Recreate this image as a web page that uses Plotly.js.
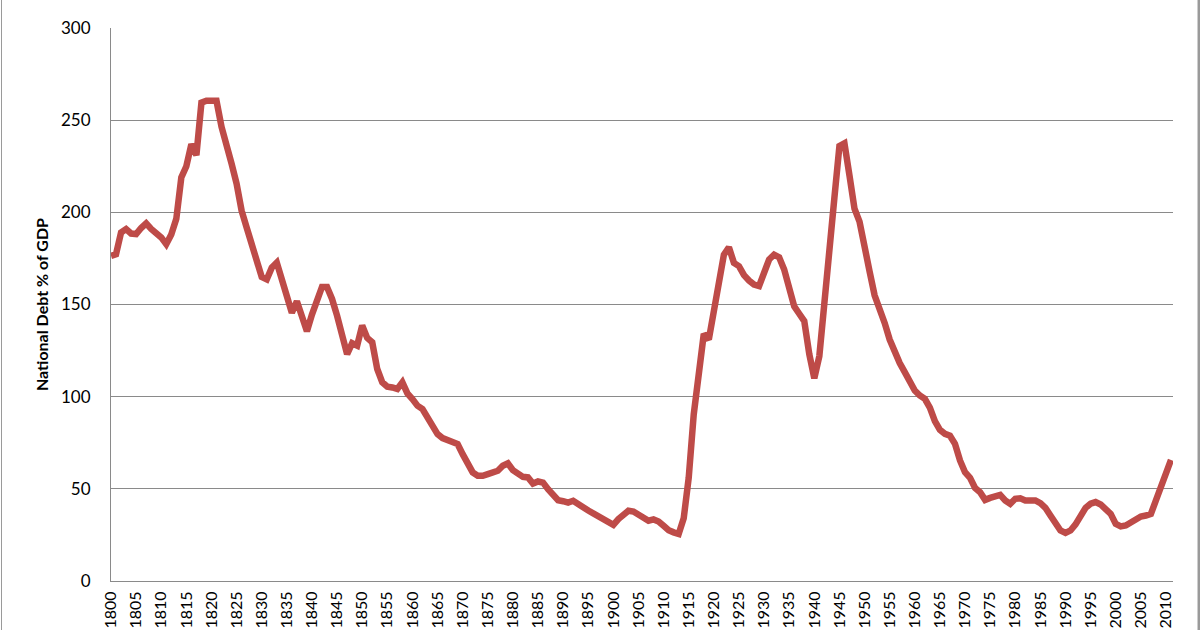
<!DOCTYPE html>
<html>
<head>
<meta charset="utf-8">
<script src="https://cdn.plot.ly/plotly-3.0.1.min.js"></script>
<style>
  html, body { margin: 0; padding: 0; background: #ffffff; overflow: hidden; }
  #chart { width: 1200px; height: 630px; }
</style>
</head>
<body>
<div id="chart"></div>
<script>
// ---- Data ----
const firstYear = 1800;
const lastYear = 2011;

// National debt as % of GDP, 1800-1899
const debt1800s = [
  176.4, 177.3, 189.1, 190.9, 188.5, 188.2, 191.5, 194.0, 191.0, 189.0,
  186.4, 182.7, 188.0, 196.5, 219.0, 225.0, 237.0, 231.0, 259.5, 260.5,
  260.4, 260.5, 246.4, 237.3, 226.4, 215.5, 200.9, 191.8, 182.7, 172.7,
  164.9, 163.6, 170.0, 172.7, 162.7, 152.7, 145.5, 151.8, 144.5, 135.5,
  144.5, 152.7, 159.5, 159.5, 153.0, 144.0, 133.0, 123.0, 129.0, 127.7,
  138.6, 131.9, 129.5, 115.0, 107.8, 105.4, 105.0, 104.2, 107.8, 101.8,
  98.7, 95.1, 93.3, 88.8, 84.2, 79.7, 77.5, 76.4, 76.0, 74.3,
  68.8, 63.4, 58.9, 57.1, 57.1, 58.0, 58.9, 59.8, 62.5, 63.8,
  60.1, 58.0, 56.5, 56.2, 52.9, 54.0, 53.4, 49.8, 46.2, 43.8,
  43.3, 42.5, 43.5, 41.5, 39.9, 38.2, 36.7, 35.2, 33.6, 31.6
];
// 1900-1999
const debt1900s = [
  30.5, 33.6, 36.3, 38.1, 37.7, 35.9, 34.1, 32.7, 33.4, 32.3,
  30.0, 27.6, 26.4, 25.5, 34.0, 56.0, 90.4, 112.0, 134.0, 131.0,
  148.0, 165.0, 177.0, 181.0, 172.6, 170.8, 165.9, 163.0, 160.8, 160.0,
  166.2, 174.4, 177.0, 175.6, 169.0, 159.0, 149.0, 145.0, 141.0, 123.0,
  110.0, 122.0, 148.0, 177.0, 208.0, 236.0, 237.5, 220.0, 202.0, 195.0,
  183.0, 168.0, 155.0, 148.0, 140.0, 131.0, 123.6, 118.2, 113.3, 107.9,
  103.3, 100.6, 98.8, 94.0, 86.7, 82.0, 79.8, 78.8, 74.4, 65.4,
  59.0, 56.0, 50.5, 48.2, 44.0, 45.1, 45.8, 46.7, 43.7, 41.9,
  44.6, 44.9, 43.7, 43.7, 43.7, 42.2, 39.7, 35.5, 30.7, 27.4,
  26.1, 27.4, 30.7, 35.5, 39.7, 41.9, 42.8, 41.5, 39.2, 36.4
];
// 2000-2011
const debt2000s = [
  31.0, 29.6, 30.1, 31.7, 33.4, 35.0, 35.5, 36.4, 43.7, 51.8,
  59.0, 65.7
];

const yTickVals = [0, 50, 100, 150, 200, 250, 300];
const yTitle = "National Debt % of GDP";

// ---- Build ----
const debt = debt1800s.concat(debt1900s, debt2000s);
const years = [];
for (let y = firstYear; y <= lastYear; y++) years.push(y);

const xTickVals = [];
for (let y = firstYear; y <= 2010; y += 5) xTickVals.push(y);

const gridGray = "#8a8a8a";
const fontFam = "Lato, 'Open Sans', sans-serif";

const trace = {
  x: years,
  y: debt,
  type: "scatter",
  mode: "lines",
  line: { color: "#BE4B48", width: 6.5, shape: "linear" },
  hoverinfo: "x+y"
};

const layout = {
  width: 1200,
  height: 630,
  margin: { l: 111, r: 27, t: 28, b: 49, pad: 0 },
  paper_bgcolor: "#ffffff",
  plot_bgcolor: "#ffffff",
  showlegend: false,
  font: { family: fontFam, size: 17, color: "#000000" },
  xaxis: {
    range: [1800, 2011.4],
    tickmode: "array",
    tickvals: xTickVals,
    ticktext: xTickVals.map(String),
    tickangle: -90,
    showgrid: false,
    zeroline: false,
    showline: true,
    linecolor: gridGray,
    linewidth: 1,
    ticks: "",
    ticklabelstandoff: 3,
    tickfont: { family: fontFam, size: 16, color: "#000000" },
    automargin: false,
    fixedrange: true
  },
  yaxis: {
    range: [0, 300],
    tickmode: "array",
    tickvals: yTickVals,
    ticktext: yTickVals.map(String),
    showgrid: true,
    gridcolor: gridGray,
    gridwidth: 1,
    zeroline: false,
    showline: true,
    linecolor: gridGray,
    linewidth: 1,
    ticks: "",
    ticklabelstandoff: 16,
    tickfont: { family: fontFam, size: 17, color: "#000000" },
    title: {
      text: "<b>" + yTitle + "</b>",
      font: { family: fontFam, size: 16, color: "#000000" },
      standoff: 8
    },
    automargin: false,
    fixedrange: true
  },
  shapes: [
    { type: "line", xref: "paper", yref: "paper",
      x0: -0.1031, x1: -0.1031, y0: -0.2, y1: 1.1,
      line: { color: "#9a9a9a", width: 1 } },
    { type: "line", xref: "paper", yref: "paper",
      x0: 1.0245, x1: 1.0245, y0: -0.2, y1: 1.1,
      line: { color: "#9a9a9a", width: 3 } }
  ]
};

Plotly.newPlot("chart", [trace], layout, { displayModeBar: false, staticPlot: true });
</script>
</body>
</html>
